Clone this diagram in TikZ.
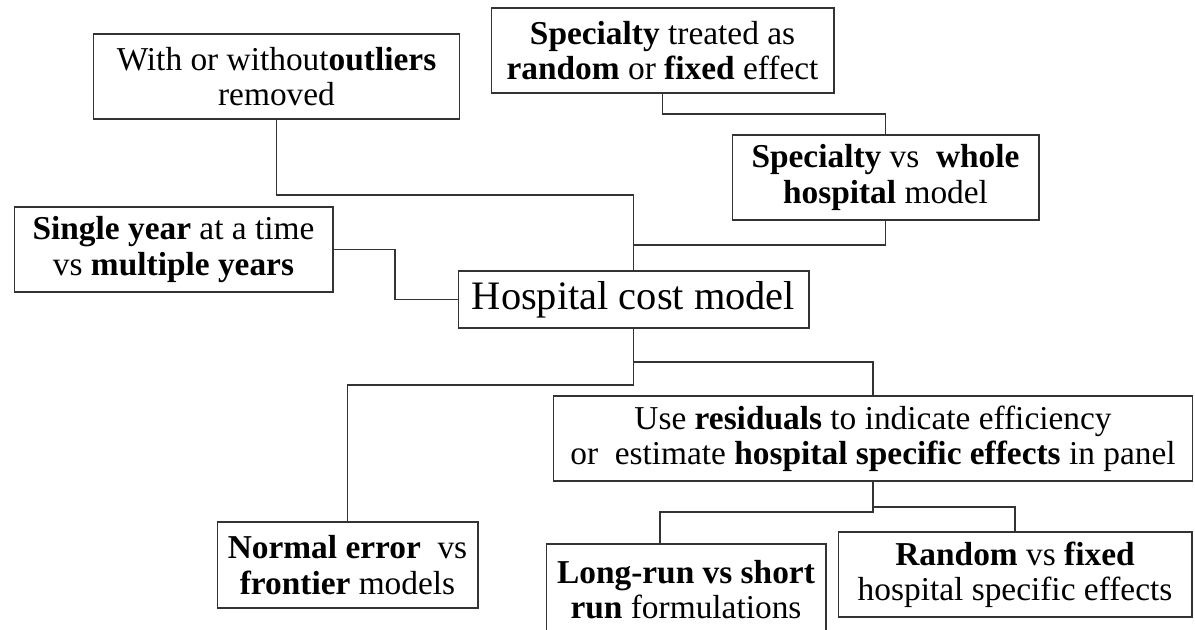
\documentclass[tikz,border=0pt]{standalone}
\usepackage{fontspec}
\setmainfont{Liberation Serif}

\begin{document}
\begin{tikzpicture}[x=0.02cm, y=-0.02cm]
			\tikzstyle{box}  = [draw=black!80, line width=0.6pt, align=center, inner sep=0pt, minimum height=1.7cm, font=\fontsize{19}{20}\selectfont]
			\tikzstyle{link} = [draw=black!80, line width=0.6pt]

			\useasboundingbox (0,0) rectangle (1195,629);
			\clip (0,0) rectangle (1195,629);

			\node[box, minimum width=7.02cm, minimum height=1.14cm, font=\fontsize{23}{24}\selectfont] (hosp) at (633.5, 299.5) {Hospital cost model};

			\node[box, minimum width=7.34cm] (outl) at (276.5, 76.5) {With or without\textbf{outliers}\\ removed};
			\node[box, minimum width=6.86cm] (spectr) at (662.5, 50.5) {\textbf{Specialty} treated as\\ \textbf{random} or \textbf{fixed} effect};
			\node[box, minimum width=6.14cm] (specwh) at (885.5, 177.5) {\textbf{Specialty} vs \ \textbf{whole}\\ \textbf{hospital} model};
			\node[box, minimum width=6.38cm] (single) at (173.5, 249.5) {\textbf{Single year} at a time\\ vs \textbf{multiple years}};
			\node[box, minimum width=12.8cm] (resid) at (873, 438.5) {Use \textbf{residuals} to indicate efficiency\\ or \ estimate \textbf{hospital specific effects} in panel};
			\node[box, minimum width=5.22cm, minimum height=1.72cm] (normal) at (347.5, 565) {\textbf{Normal error} \ vs\\ \textbf{frontier} models};
			\node[box, minimum width=5.6cm, minimum height=1.84cm] (longrun) at (686, 590) {\textbf{Long-run vs short}\\ \textbf{run} formulations};
			\node[box, minimum width=7.08cm] (random) at (1015, 574.5) {\textbf{Random} vs \textbf{fixed}\\ hospital specific effects};

			% levels of the elbows
			\coordinate (l1) at (0, 195);
			\coordinate (l2) at (0, 114);
			\coordinate (l3) at (0, 245);
			\coordinate (l4) at (395, 0);
			\coordinate (l5) at (0, 362);
			\coordinate (l6) at (0, 385);
			\coordinate (l7) at (0, 507);
			\coordinate (l8) at (0, 512);

			\foreach \from/\lvl/\to in {outl.south/l1/hosp.north, spectr.south/l2/specwh.north, specwh.south/l3/hosp.north, hosp.south/l5/resid.north, hosp.south/l6/normal.north, resid.south/l7/random.north}
				\path[link] (\from) |- (\lvl -| \to) -- (\to);

			\path[link] (resid.south) |- ([xshift=-0.52cm]longrun.north |- l8) -- ([xshift=-0.52cm]longrun.north);
			\path[link] (single.east) -| (l4 |- hosp.west) -- (hosp.west);

		\end{tikzpicture}
\end{document}
